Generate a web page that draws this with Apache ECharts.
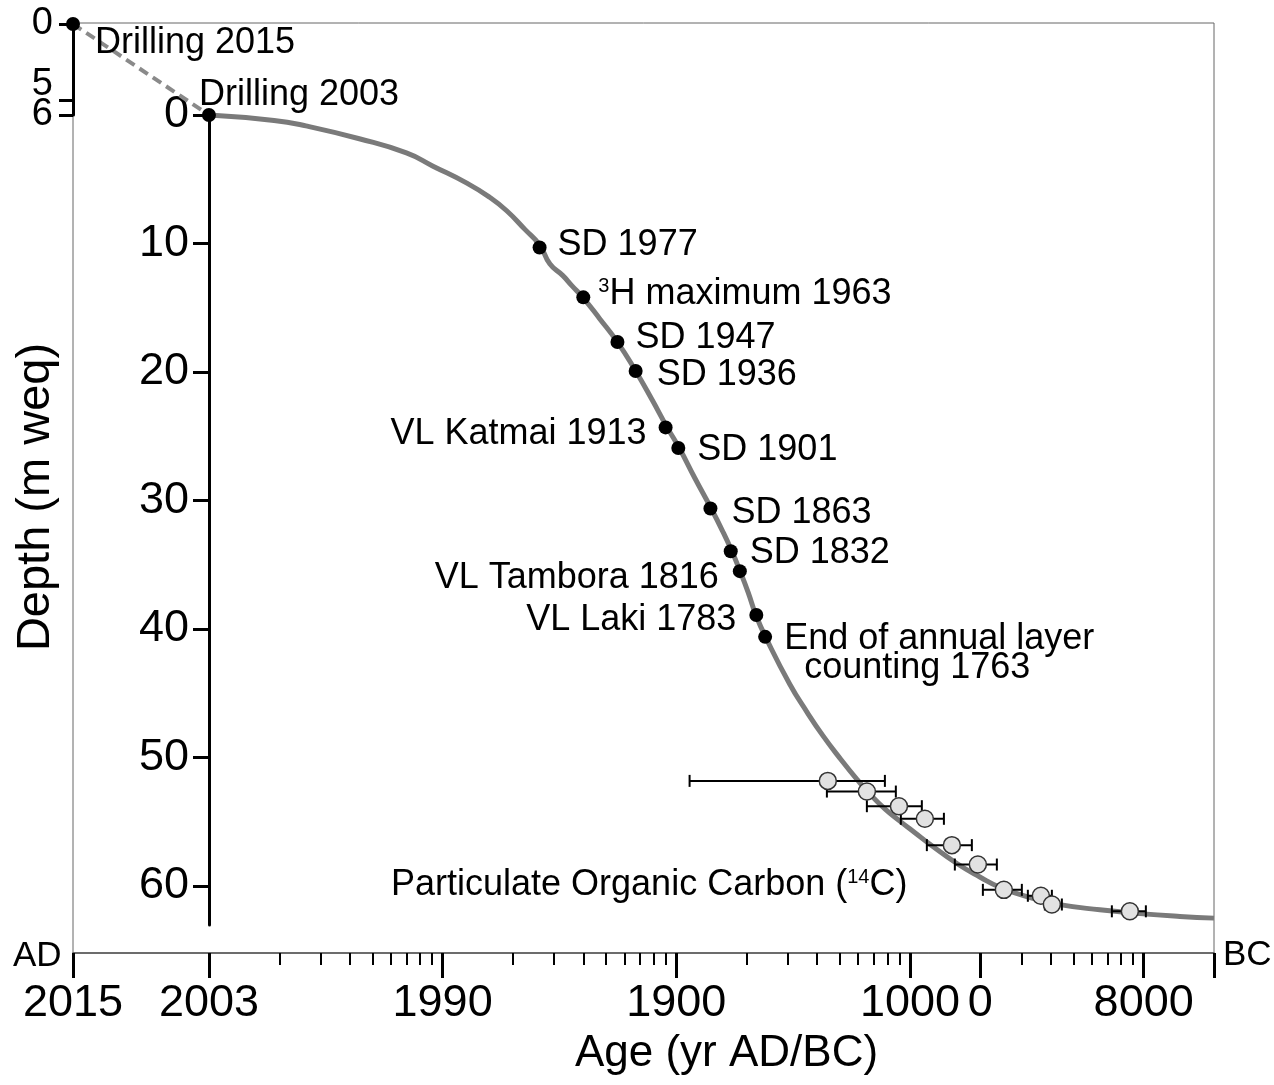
<!DOCTYPE html>
<html><head><meta charset="utf-8">
<script src="https://cdn.jsdelivr.net/npm/echarts@6/dist/echarts.min.js"></script>
<style>html,body{margin:0;padding:0;background:#fff}#c{width:1274px;height:1085px}</style>
</head><body><div id="c"></div>
<script>
// ---------------- DATA ----------------
// x positions are read on the logarithmic age axis (years before the 2003 surface),
// depths in m weq.
const xTickAges   = [0.262, 1, 10, 100, 1000, 2000, 10000];
const xTickLabels = ['2015', '2003', '1990', '1900', '1000', '0', '8000'];
const xAxisEndAge = 20000;
const xMinorAges  = [2,3,4,5,6,7,8,9, 20,30,40,50,60,70,80,90, 200,300,400,500,600,700,800,900,
                     3000,4000,5000,6000,7000,8000,9000];
const depthTicks    = [0, 10, 20, 30, 40, 50, 60];
const topDepthTicksA = [0, 6];   // 2015 core depth scale (labels drawn on two axes to avoid overlap culling)
const topDepthTicksB = [5];

// 2015 drilling: surface (0 m) and the 2003 surface found at 6 m in the 2015 core
const drill2015Age   = [0.262, 1];
const drill2015Depth = [0, 6];

const curveAge = [1, 1.9, 2.6, 4.4, 7.0, 9.1, 12.7, 15.9, 18.8, 22.5,
  26, 28.8, 32.7, 35.8, 39.8, 47, 56, 67, 79, 91,
  103, 120, 141, 157, 173, 187, 203, 219, 242, 306,
  362, 424, 501, 593, 674, 781, 905, 1050, 1217, 1588,
  1991, 2425, 3260, 4380, 6490, 9630, 14290, 20000];
const curveDepth = [0, 0.42, 0.85, 1.85, 2.95, 3.98, 5.30, 6.40, 7.45, 8.90,
  10.10, 11.60, 12.50, 13.30, 14.19, 15.85, 17.67, 19.92, 22.20, 24.25,
  25.92, 28.25, 30.62, 32.30, 33.95, 35.45, 37.15, 38.91, 40.69, 44.30,
  46.45, 48.30, 50.05, 51.70, 52.85, 54.00, 54.95, 55.85, 56.75, 58.25,
  59.30, 60.10, 60.90, 61.45, 61.85, 62.15, 62.37, 62.5];

const markerNames = ['Drilling 2003', 'SD 1977', '{sup|3}H maximum 1963', 'SD 1947', 'SD 1936',
  'VL Katmai 1913', 'SD 1901', 'SD 1863', 'SD 1832', 'VL Tambora 1816', 'VL Laki 1783',
  'End of annual layer\n  counting 1763'];
const markerAge   = [1, 26, 40, 56, 67, 90, 102, 140, 171, 187, 220, 240];
const markerDepth = [0, 10.31, 14.19, 17.67, 19.92, 24.31, 25.92, 30.62, 33.95, 35.50, 38.91, 40.61];

const c14Age   = [445, 654, 897, 1158, 1511, 1952, 2522, 3632, 4048, 8730];
const c14AgeLo = [114, 441, 654, 914, 1181, 1556, 2051, 3195, 3778, 7310];
const c14AgeHi = [781, 870, 1124, 1397, 1840, 2354, 3011, 4048, 4467, 10220];
const c14Depth = [51.82, 52.65, 53.79, 54.77, 56.82, 58.33, 60.30, 60.76, 61.44, 61.97];

// ---------------- LAYOUT / STYLE ----------------
const FONT = "'Liberation Sans', Arial, Helvetica, sans-serif";
const INK = '#000';
const PLOT = {left: 73, right: 1214, top: 23, bottom: 953};
const Y0 = 115, PXM = 12.85, MAIN_AXIS_BOTTOM = 925;
const dataYMin = (PLOT.top - Y0) / PXM;
const dataYMax = (PLOT.bottom - Y0) / PXM;
const mainYMax = (MAIN_AXIS_BOTTOM - Y0) / PXM;
const lg = Math.log10;
const xMin = lg(xTickAges[0]), xMax = lg(xAxisEndAge);

const markerLabelPlacement = [
  {position: [-3, -13], align: 'left', verticalAlign: 'middle'},
  {position: 'right', distance: 11, offset: [0, -2]},
  {position: 'right', distance: 8, offset: [0, -3]},
  {position: 'right', distance: 11, offset: [0, -4]},
  {position: 'right', distance: 14, offset: [0, 4]},
  {position: 'left', distance: 12, offset: [0, 7]},
  {position: 'right', distance: 12, offset: [0, 2]},
  {position: 'right', distance: 14, offset: [0, 5]},
  {position: 'right', distance: 12, offset: [0, 2]},
  {position: 'left', distance: 14, offset: [0, 7]},
  {position: 'left', distance: 13, offset: [0, 5]},
  {position: 'right', distance: 12, offset: [0, 17], lineHeight: 29}
];

const supRich = {sup: {fontSize: 20, fontFamily: FONT, color: INK, verticalAlign: 'top', lineHeight: 20}};

function tickLabel(v) {
  for (let i = 0; i < xTickAges.length; i++) {
    if (Math.abs(lg(xTickAges[i]) - v) < 1e-6) return xTickLabels[i];
  }
  return '';
}

const chart = echarts.init(document.getElementById('c'), null, {renderer: 'canvas'});
const hiddenAxis = {show: false, splitLine: {show: false}, axisLine: {show: false, onZero: false}};

chart.setOption({
  animation: false,
  backgroundColor: '#fff',
  textStyle: {fontFamily: FONT},
  grid: [
    {left: PLOT.left, top: PLOT.top, width: PLOT.right - PLOT.left, height: PLOT.bottom - PLOT.top,
     show: true, borderColor: '#666', borderWidth: 1, containLabel: false},
    {left: 73, top: 24, width: 136, height: Y0 - 24, containLabel: false},
    {left: 209, top: Y0, width: 10, height: MAIN_AXIS_BOTTOM - Y0, containLabel: false}
  ],
  xAxis: [
    { type: 'value', gridIndex: 0, position: 'bottom', min: xMin, max: xMax,
      axisLine: {show: true, onZero: false, lineStyle: {color: '#555', width: 1.5}},
      axisTick: {show: true, length: 25, customValues: xTickAges.map(lg).concat([lg(xAxisEndAge)]),
                 lineStyle: {color: INK, width: 3}},
      axisLabel: {show: true, customValues: xTickAges.map(lg), formatter: tickLabel, margin: 28,
                  fontSize: 45, color: INK, fontFamily: FONT},
      splitLine: {show: false},
      name: 'Age (yr AD/BC)', nameLocation: 'middle', nameGap: 79,
      nameTextStyle: {fontSize: 44, color: INK, fontFamily: FONT, padding: [0, 0, 0, 166]}
    },
    { type: 'value', gridIndex: 0, position: 'bottom', min: xMin, max: xMax,
      axisLine: {show: false, onZero: false},
      axisTick: {show: true, length: 12, customValues: xMinorAges.map(lg), lineStyle: {color: INK, width: 2}},
      axisLabel: {show: false}, splitLine: {show: false}
    },
    Object.assign({type: 'value', gridIndex: 1, min: xMin, max: 0}, hiddenAxis),
    Object.assign({type: 'value', gridIndex: 2, min: 0, max: 1}, hiddenAxis)
  ],
  yAxis: [
    { type: 'value', gridIndex: 0, inverse: true, min: dataYMin, max: dataYMax,
      axisLine: {show: false, onZero: false}, axisTick: {show: false}, axisLabel: {show: false}, splitLine: {show: false},
      name: 'Depth (m weq)', nameLocation: 'middle', nameGap: 13, nameRotate: 90,
      nameTextStyle: {fontSize: 47, color: INK, fontFamily: FONT, padding: [0, 18, 0, 0]}
    },
    { type: 'value', gridIndex: 1, inverse: true, min: 0, max: 6, position: 'left',
      axisLine: {show: true, onZero: false, lineStyle: {color: INK, width: 3}},
      axisTick: {show: true, length: 14, customValues: topDepthTicksA, lineStyle: {color: INK, width: 3}},
      axisLabel: {show: true, customValues: topDepthTicksA, margin: 20, fontSize: 38, color: INK, fontFamily: FONT,
                  showMinLabel: true, showMaxLabel: true},
      splitLine: {show: false}
    },
    { type: 'value', gridIndex: 2, inverse: true, min: 0, max: mainYMax, position: 'left',
      axisLine: {show: true, onZero: false, lineStyle: {color: INK, width: 3}},
      axisTick: {show: true, length: 16, customValues: depthTicks, lineStyle: {color: INK, width: 3}},
      axisLabel: {show: true, customValues: depthTicks, margin: 20, fontSize: 45, color: INK, fontFamily: FONT},
      splitLine: {show: false}
    },
    { type: 'value', gridIndex: 1, inverse: true, min: 0, max: 6, position: 'left',
      axisLine: {show: false, onZero: false},
      axisTick: {show: true, length: 14, customValues: topDepthTicksB, lineStyle: {color: INK, width: 3}},
      axisLabel: {show: true, customValues: topDepthTicksB, margin: 20, fontSize: 38, color: INK, fontFamily: FONT,
                  verticalAlign: 'bottom', lineHeight: 30, showMinLabel: true, showMaxLabel: true},
      splitLine: {show: false}
    }
  ],
  series: [
    { // 2015 -> 2003 link (dashed)
      type: 'line', xAxisIndex: 2, yAxisIndex: 1, clip: false, symbol: 'none', z: 3,
      lineStyle: {color: '#8a8a8a', width: 4, type: [10, 6]},
      data: drill2015Age.map((a, i) => [lg(a), drill2015Depth[i]])
    },
    { // Drilling 2015 point
      type: 'scatter', xAxisIndex: 2, yAxisIndex: 1, clip: false, z: 6,
      symbol: 'circle', symbolSize: 14, itemStyle: {color: INK, opacity: 1},
      label: {show: true, position: 'right', distance: 15, offset: [0, 19], formatter: 'Drilling 2015',
              fontSize: 36, color: INK, fontFamily: FONT},
      data: [[lg(drill2015Age[0]), drill2015Depth[0]]]
    },
    { // age-depth model
      type: 'line', xAxisIndex: 0, yAxisIndex: 0, clip: false, symbol: 'none', z: 2,
      smooth: 0.5,
      lineStyle: {color: '#7a7a7a', width: 5},
      data: curveAge.map((a, i) => [lg(a), curveDepth[i]])
    },
    { // 14C error bars
      type: 'custom', xAxisIndex: 0, yAxisIndex: 0, z: 3, clip: false,
      renderItem: function (params, api) {
        const lo = api.coord([api.value(0), api.value(2)]);
        const hi = api.coord([api.value(1), api.value(2)]);
        const cap = 6;
        const st = {stroke: INK, lineWidth: 2};
        return {type: 'group', children: [
          {type: 'line', shape: {x1: lo[0], y1: lo[1], x2: hi[0], y2: hi[1]}, style: st},
          {type: 'line', shape: {x1: lo[0], y1: lo[1] - cap, x2: lo[0], y2: lo[1] + cap}, style: st},
          {type: 'line', shape: {x1: hi[0], y1: hi[1] - cap, x2: hi[0], y2: hi[1] + cap}, style: st}
        ]};
      },
      encode: {x: [0, 1], y: 2},
      data: c14Age.map((a, i) => [lg(c14AgeLo[i]), lg(c14AgeHi[i]), c14Depth[i]])
    },
    { // 14C points
      type: 'scatter', xAxisIndex: 0, yAxisIndex: 0, z: 4, clip: false,
      symbol: 'circle', symbolSize: 17,
      itemStyle: {color: '#e2e2e2', borderColor: '#333', borderWidth: 1.5, opacity: 1},
      data: c14Age.map((a, i) => [lg(a), c14Depth[i]])
    },
    { // dated horizons
      type: 'scatter', xAxisIndex: 0, yAxisIndex: 0, z: 6, clip: false,
      symbol: 'circle', symbolSize: 14, itemStyle: {color: INK, opacity: 1},
      label: {show: true, fontSize: 36, color: INK, fontFamily: FONT, rich: supRich,
              formatter: p => markerNames[p.dataIndex]},
      data: markerAge.map((a, i) => ({value: [lg(a), markerDepth[i]], label: markerLabelPlacement[i]}))
    }
  ],
  graphic: [
    {type: 'text', x: 13, y: 956, z: 10,
     style: {text: 'AD', fontSize: 35, fontFamily: FONT, fill: INK, verticalAlign: 'middle'}},
    {type: 'text', x: 1223, y: 955, z: 10,
     style: {text: 'BC', fontSize: 35, fontFamily: FONT, fill: INK, verticalAlign: 'middle'}},
    {type: 'text', x: 391, y: 885, z: 10,
     style: {text: 'Particulate Organic Carbon ({sup|14}C)', fontSize: 36, fontFamily: FONT, fill: INK,
             verticalAlign: 'middle', rich: {sup: {fontSize: 20, fontFamily: FONT, fill: INK, verticalAlign: 'top', lineHeight: 20}}}}
  ]
});
</script></body></html>
